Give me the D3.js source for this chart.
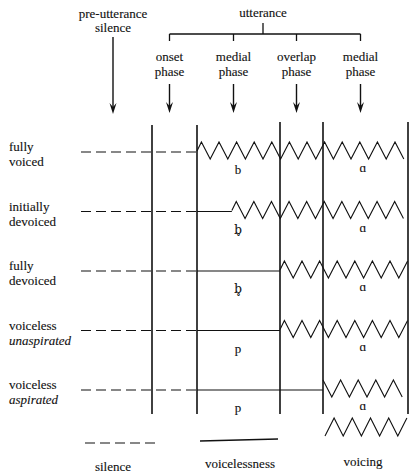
<!DOCTYPE html>
<html><head><meta charset="utf-8">
<script src="https://cdn.jsdelivr.net/npm/d3@7/dist/d3.min.js"></script>
<style>body{margin:0;background:#fff}svg{display:block}text{font-family:"Liberation Serif","DejaVu Serif",serif;fill:#111;stroke:#111;stroke-width:0.12}</style>
</head><body>
<script>
// ---- data ----
const phases = ["onset\nphase", "medial\nphase", "overlap\nphase", "medial\nphase"];
const boundaries = [0, 1, 2, 3, 4];               // phase boundaries (time units)
const rowLabels = [["fully","voiced"],["initially","devoiced"],["fully","devoiced"],["voiceless","unaspirated"],["voiceless","aspirated"]];
const rowItalic = [false,false,false,true,true];
const voicingOnset = [1, 1.42, 2, 2, 3];          // time at which voicing starts
const consonants = ["b", "b\u0325", "b\u0325", "p", "p"];
const vowels = ["\u0251","\u0251","\u0251","\u0251","\u0251"];
const legend = ["silence", "voicelessness", "voicing"];

const W = 410, H = 475;
const svg = d3.select("body").append("svg").attr("width", W).attr("height", H);

const x = d3.scaleLinear().domain([0, 1, 2, 3, 4]).range([152, 197, 280, 323, 408]);
const y = d3.scalePoint().domain(d3.range(rowLabels.length)).range([152, 390]);
const ink = "#111";
const PERIOD = 17.6;

function zigzag(x0, x1, yc, up, down, period, startUp, startAtPeak) {
  const pts = [];
  let px = x0, hi = startUp, first = !startAtPeak;
  if (startAtPeak) { pts.push([x0, startUp ? yc + down : yc - up]); }
  else pts.push([x0, yc]);
  while (true) {
    px += first ? period / 4 : period / 2;
    first = false;
    if (px > x1) break;
    pts.push([px, hi ? yc - up : yc + down]);
    hi = !hi;
  }
  return d3.line()(pts);
}
function arrow(px, y0, y1) {
  svg.append("line").attr("x1",px).attr("x2",px).attr("y1",y0).attr("y2",y1-6).attr("stroke",ink).attr("stroke-width",1.4);
  svg.append("path").attr("d",`M${px-3.5},${y1-11} L${px},${y1-7} L${px+3.5},${y1-11} L${px},${y1} Z`).attr("fill",ink);
}

// top labels
svg.append("text").attr("x",113).attr("y",18).attr("text-anchor","middle").attr("font-size",13).text("pre-utterance");
svg.append("text").attr("x",113).attr("y",32).attr("text-anchor","middle").attr("font-size",13).text("silence");
arrow(113, 37, 114);

svg.append("text").attr("x",263).attr("y",17).attr("text-anchor","middle").attr("font-size",13).text("utterance");
const phaseX = phases.map((p,i)=> (x(boundaries[i]) + x(boundaries[i+1]))/2 - 5);
svg.append("line").attr("x1",263).attr("x2",263).attr("y1",23).attr("y2",34).attr("stroke",ink).attr("stroke-width",1.3);
svg.append("line").attr("x1",phaseX[0]).attr("x2",phaseX[3]).attr("y1",34).attr("y2",34).attr("stroke",ink).attr("stroke-width",1.6);
phases.forEach((p,i)=>{
  const px = phaseX[i];
  svg.append("line").attr("x1",px).attr("x2",px).attr("y1",34).attr("y2",41).attr("stroke",ink).attr("stroke-width",1.3);
  p.split("\n").forEach((l,j)=> svg.append("text").attr("x",px).attr("y",61+j*15).attr("text-anchor","middle").attr("font-size",13).text(l));
  arrow(px, 84, 113);
});

// vertical boundary lines
boundaries.forEach((b,i)=>{
  svg.append("line").attr("x1",x(b)).attr("x2",x(b)).attr("y1", i<2?125:122).attr("y2",414)
    .attr("stroke",ink).attr("stroke-width",1.6);
});

// rows
rowLabels.forEach((lab,i)=>{
  const yc = y(i);
  lab.forEach((l,j)=> svg.append("text").attr("x",9).attr("y",yc-1+j*15).attr("font-size",13)
    .attr("font-style", (j===1 && rowItalic[i]) ? "italic" : "normal").text(l));
  svg.append("line").attr("x1",81).attr("x2",x(1)).attr("y1",yc).attr("y2",yc)
    .attr("stroke",ink).attr("stroke-width",1.2).attr("stroke-dasharray","10,5");
  const vo = x(voicingOnset[i]);
  if (vo > x(1)) {
    svg.append("line").attr("x1",x(1)).attr("x2",vo).attr("y1",yc).attr("y2",yc).attr("stroke",ink).attr("stroke-width",1.2);
  }
  const last = i === rowLabels.length - 1;
  svg.append("path").attr("d", zigzag(vo, x(4)+1, yc-1, 9, 8, PERIOD, !last, last))
    .attr("fill","none").attr("stroke",ink).attr("stroke-width",1.1);
  const hasMark = consonants[i].length > 1;
  svg.append("text").attr("x",238).attr("y",yc+22).attr("text-anchor","middle").attr("font-size", hasMark ? 12 : 13)
    .style("font-family", hasMark ? "'DejaVu Serif', serif" : null).text(consonants[i]);
  svg.append("text").attr("x",363).attr("y",yc+20).attr("text-anchor","middle").attr("font-size",13).text(vowels[i]);
});

// legend
svg.append("line").attr("x1",85).attr("x2",158).attr("y1",443).attr("y2",443)
  .attr("stroke",ink).attr("stroke-width",1.2).attr("stroke-dasharray","10,5");
svg.append("line").attr("x1",200).attr("x2",278).attr("y1",441).attr("y2",439).attr("stroke",ink).attr("stroke-width",1.3);
svg.append("path").attr("d", zigzag(325, 410, 427, 9, 9, 18.2, true, true)).attr("fill","none").attr("stroke",ink).attr("stroke-width",1.1);
[[113,471],[240,468],[363,466]].forEach((p,i)=>
  svg.append("text").attr("x",p[0]).attr("y",p[1]).attr("text-anchor","middle").attr("font-size",13).text(legend[i]));
</script>
</body></html>
